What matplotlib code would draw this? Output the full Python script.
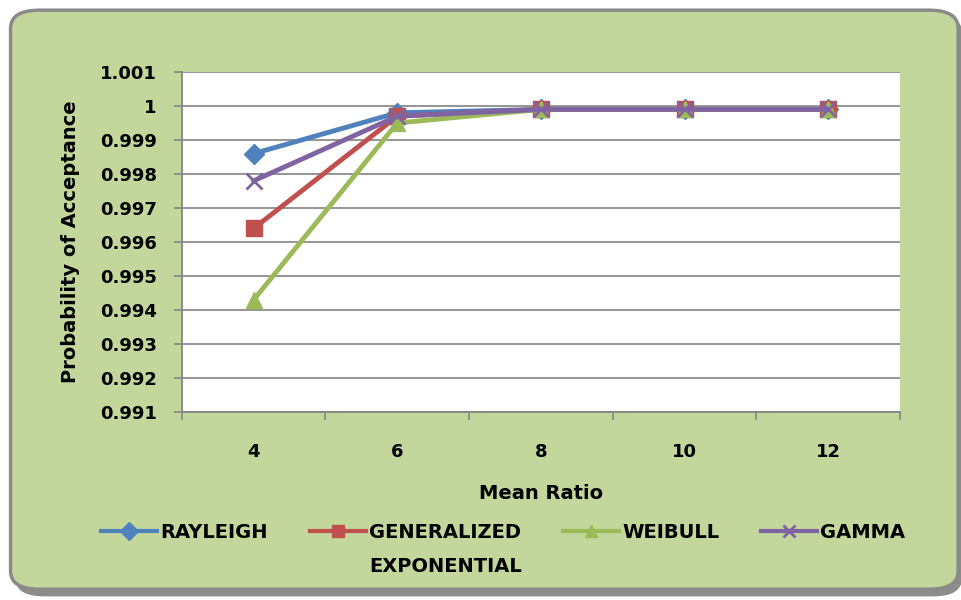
import numpy as np
import matplotlib.pyplot as plt
from matplotlib.patches import FancyBboxPatch

plt.rcParams['font.family'] = ['DejaVu Sans']
plt.rcParams['font.weight'] = 'bold'

# data
mean_ratio = [4, 6, 8, 10, 12]
rayleigh = [0.9986, 0.9998, 0.9999, 0.9999, 0.9999]
gen_exp = [0.9964, 0.9997, 0.9999, 0.9999, 0.9999]
weibull = [0.9943, 0.9995, 0.9999, 0.9999, 0.9999]
gamma = [0.9978, 0.9997, 0.9999, 0.9999, 0.9999]

series = [
    ('RAYLEIGH', rayleigh, '#4F81BD', 'D', 10),
    ('GENERALIZED', gen_exp, '#C0504D', 's', 11),
    ('WEIBULL', weibull, '#9BBB59', '^', 12),
    ('GAMMA', gamma, '#8064A2', 'x', 11),
]

fig = plt.figure(figsize=(9.62, 6), dpi=100)
fig.patch.set_facecolor('white')

# rounded green chart area with a grey shadow
shadow = FancyBboxPatch((0.016, 0.006), 0.984, 0.97, boxstyle='round,pad=0,rounding_size=0.03',
                        transform=fig.transFigure, facecolor='#8C8C8C', edgecolor='none', zorder=0)
box = FancyBboxPatch((0.011, 0.018), 0.985, 0.965, boxstyle='round,pad=0,rounding_size=0.03',
                     transform=fig.transFigure, facecolor='#C3D69B', edgecolor='#8A8A8A',
                     linewidth=2.5, zorder=1)
fig.patches.extend([shadow, box])

ax = fig.add_axes([0.189, 0.3133, 0.7466, 0.5667])
ax.set_zorder(2)
ax.set_facecolor('white')

for name, vals, col, mk, ms in series:
    ax.plot(mean_ratio, vals, color=col, linewidth=3.5, marker=mk, markersize=ms,
            markeredgewidth=2 if mk == 'x' else 1, markeredgecolor=col, label=name)

ax.set_xlim(3, 13)
ax.set_ylim(0.991, 1.001)
ax.set_yticks(np.arange(0.991, 1.0011, 0.001))
ax.set_yticklabels(['0.991', '0.992', '0.993', '0.994', '0.995', '0.996', '0.997',
                    '0.998', '0.999', '1', '1.001'])
ax.set_xticks(mean_ratio)
ax.set_xticks(np.arange(3, 13.1, 2), minor=True)
ax.tick_params(axis='x', which='major', length=0, pad=22, labelsize=13)
ax.tick_params(axis='x', which='minor', length=6, color='#868686', width=1.2, direction='out')
ax.tick_params(axis='y', length=6, color='#868686', width=1.2, labelsize=13, pad=12)
ax.yaxis.grid(True, color='#8C8C8C', linewidth=1.3)
ax.set_axisbelow(True)
for s in ['top', 'right']:
    ax.spines[s].set_visible(False)
for s in ['left', 'bottom']:
    ax.spines[s].set_color('#868686')
    ax.spines[s].set_linewidth(1.3)

ax.set_xlabel('Mean Ratio', fontsize=14, fontweight='bold', labelpad=17)
ax.set_ylabel('Probability of Acceptance', fontsize=14, fontweight='bold', labelpad=14)

leg = fig.legend(loc='center', bbox_to_anchor=(0.523, 0.112), ncol=4, frameon=False,
                 fontsize=14, handlelength=2.9, columnspacing=2.15, handletextpad=0.15,
                 borderpad=0, borderaxespad=0)
for t in leg.get_texts():
    t.set_fontweight('bold')
for h in leg.legend_handles:
    h.set_linewidth(3)
    h.set_markersize(9)

# second line of the two-line legend entry
fig.canvas.draw()
ge_text = leg.get_texts()[1]
bb = ge_text.get_window_extent()
fig.text(bb.x0 / fig.bbox.width, (bb.y0 - 34) / fig.bbox.height, 'EXPONENTIAL',
         fontsize=14, fontweight='bold', ha='left', va='bottom')

fig.savefig('out.png', dpi=100)
